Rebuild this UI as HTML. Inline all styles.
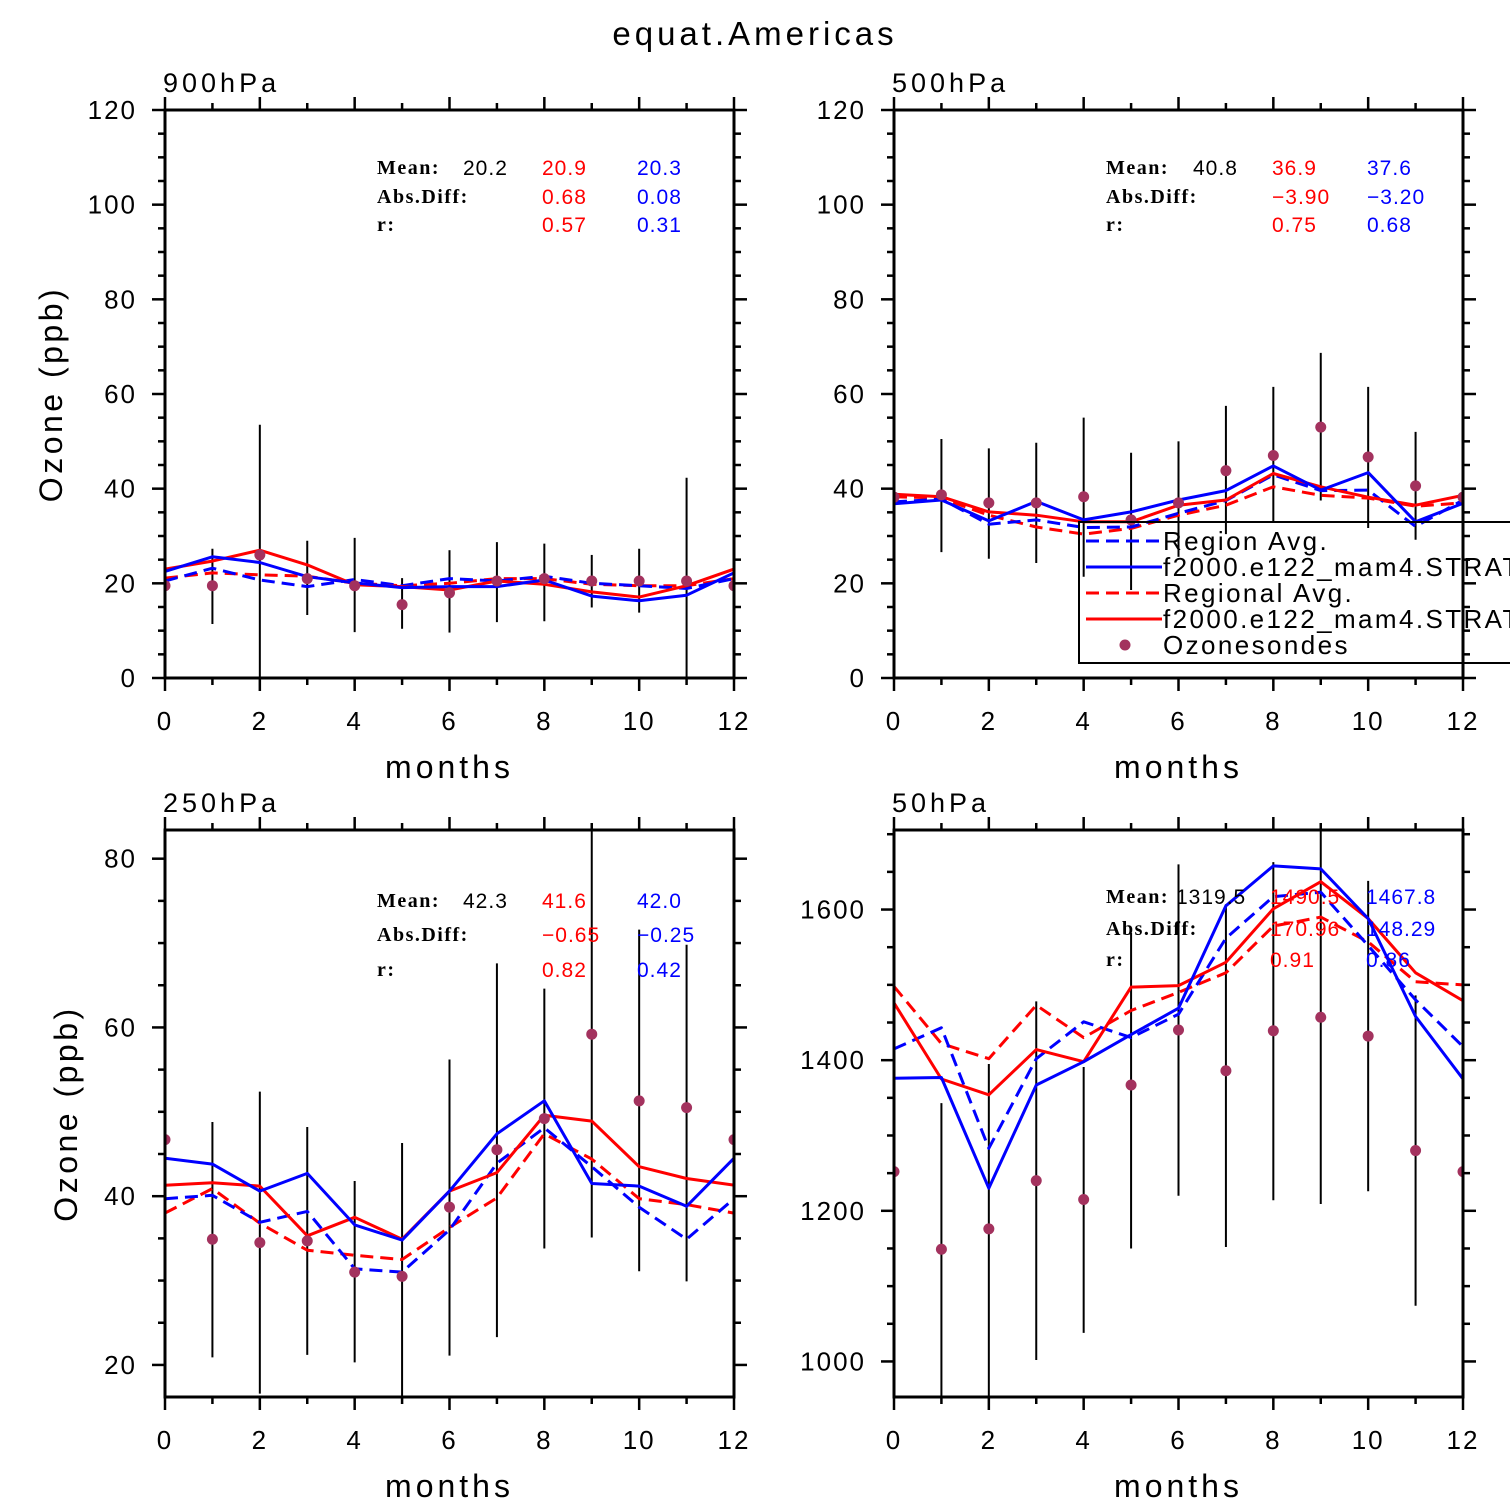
<!DOCTYPE html>
<html><head><meta charset="utf-8"><style>
body{margin:0;background:#fff;}
svg{display:block;font-family:"Liberation Sans",sans-serif;}
</style></head><body>
<svg id="chart" width="1510" height="1510" viewBox="0 0 1510 1510" xmlns="http://www.w3.org/2000/svg">
<text x="755" y="45" font-size="33" letter-spacing="4" text-anchor="middle">equat.Americas</text>
</svg>
<script>
const months = [0,1,2,3,4,5,6,7,8,9,10,11,12];
// 900hPa
const p1Obs = [19.5,19.5,26,21,19.5,15.5,18,20.5,21,20.5,20.5,20.5,19.5];
const p1ErrHi = [null,27.3,53.5,29,29.6,21.1,27,28.7,28.4,26,27.3,42.3,null];
const p1ErrLo = [null,11.4,-5,13.3,9.7,10.4,9.6,11.8,12,14.9,13.8,-5,null];
const p1BlueSolid = [22.5,25.6,24.4,21.4,20.1,19.1,19.3,19.3,20.7,17.3,16.3,17.5,22.2];
const p1BlueDash = [20.5,23.2,20.7,19.3,20.8,19.5,21,20.5,21.5,20,19.5,18.9,21];
const p1RedSolid = [23,24.7,27,23.9,19.7,19.3,18.6,20.5,19.8,18.2,17.1,19.5,23];
const p1RedDash = [21.1,22.2,21.8,21.5,20,19.5,20,21,21,19.8,19.5,19.5,21];
// 500hPa
const p2Obs = [38.2,38.7,37,37,38.3,33.4,37,43.8,47,53,46.7,40.6,38.2];
const p2ErrHi = [null,50.5,48.5,49.7,55,47.6,50,57.5,61.5,68.7,61.5,52,null];
const p2ErrLo = [null,26.6,25.2,24.3,21.4,18.6,25.6,30.4,32.8,37.5,31.7,29.2,null];
const p2BlueSolid = [36.8,37.6,33.2,37.3,33.4,35.1,37.6,39.6,44.8,39.7,43.4,33,36.9];
const p2BlueDash = [37.2,37.8,32.5,33.4,31.8,31.9,34.8,37.5,42.9,39.6,39.7,32,37.6];
const p2RedSolid = [38.8,38.3,35.1,34.4,33,33,36.5,37.6,43.2,40.4,38.2,36.5,38.6];
const p2RedDash = [38.3,38,34.4,31.9,30.4,31.6,34.4,36.5,40.4,38.6,38,36.3,37];
// 250hPa
const p3Obs = [46.7,34.9,34.5,34.7,31,30.5,38.7,45.5,49.2,59.2,51.3,50.5,46.7];
const p3ErrHi = [null,48.8,52.4,48.2,41.8,46.3,56.2,67.6,64.6,90,71.6,69.8,null];
const p3ErrLo = [null,20.9,16.6,21.2,20.3,10,21.1,23.3,33.8,35.1,31.1,29.9,null];
const p3BlueSolid = [44.5,43.8,40.6,42.7,36.6,34.8,40.6,47.4,51.3,41.5,41.2,38.8,44.5];
const p3BlueDash = [39.7,40.1,36.9,38.2,31.4,31,36,43.9,48.1,43.5,38.7,34.9,39.7];
const p3RedSolid = [41.3,41.6,41.2,35.3,37.5,34.9,40.6,42.8,49.6,48.9,43.5,42.1,41.3];
const p3RedDash = [38,40.9,36.8,33.6,33,32.5,36.3,39.8,47.4,44.4,39.7,39,38];
// 50hPa
const p4Obs = [1252,1149,1176,1240,1215,1367,1440,1386,1439,1457,1432,1280,1252];
const p4ErrHi = [null,1343,1395,1478,1391,1569,1660,1607,1663,1750,1638,1486,null];
const p4ErrLo = [null,900,900,1002,1038,1150,1220,1152,1214,1209,1226,1074,null];
const p4BlueSolid = [1376,1377,1230,1367,1398,1434,1469,1605,1658,1654,1588,1458,1375];
const p4BlueDash = [1415,1443,1283,1402,1451,1430,1461,1562,1617,1623,1552,1480,1418];
const p4RedSolid = [1476,1375,1354,1414,1398,1497,1499,1530,1601,1637,1588,1516,1479];
const p4RedDash = [1498,1422,1402,1473,1430,1466,1490,1516,1578,1590,1557,1504,1500];
const p1Stats = ["20.2","20.9","20.3","0.68","0.08","0.57","0.31"];
const p2Stats = ["40.8","36.9","37.6","\u22123.90","\u22123.20","0.75","0.68"];
const p3Stats = ["42.3","41.6","42.0","\u22120.65","\u22120.25","0.82","0.42"];
const p4Stats = ["1319.5","1490.5","1467.8","170.96","148.29","0.91","0.86"];
const xTickLabels = ["0","2","4","6","8","10","12"];

const NS="http://www.w3.org/2000/svg";
const svg=document.getElementById('chart');
function mk(tag,attrs,parent){const e=document.createElementNS(NS,tag);for(const k in attrs)e.setAttribute(k,attrs[k]);(parent||svg).appendChild(e);return e;}

const panels=[
 {id:'p1',name:'900hPa',x0:165,x1:734,y0:110,y1:678,vmin:0,vmax:120,major:20,minor:5,ticks:[0,20,40,60,80,100,120],obs:p1Obs,hi:p1ErrHi,lo:p1ErrLo,bs:p1BlueSolid,bd:p1BlueDash,rs:p1RedSolid,rd:p1RedDash,stats:p1Stats,sx:377,sv:463,sr:542,sb:637,sy:[167,196,224],ylab:true,ylx:62},
 {id:'p2',name:'500hPa',x0:894,x1:1463,y0:110,y1:678,vmin:0,vmax:120,major:20,minor:5,ticks:[0,20,40,60,80,100,120],obs:p2Obs,hi:p2ErrHi,lo:p2ErrLo,bs:p2BlueSolid,bd:p2BlueDash,rs:p2RedSolid,rd:p2RedDash,stats:p2Stats,sx:1106,sv:1193,sr:1272,sb:1367,sy:[167,196,224],legend:true},
 {id:'p3',name:'250hPa',x0:165,x1:734,y0:830,y1:1397,vmin:16.2,vmax:83.4,major:20,minor:5,ticks:[20,40,60,80],obs:p3Obs,hi:p3ErrHi,lo:p3ErrLo,bs:p3BlueSolid,bd:p3BlueDash,rs:p3RedSolid,rd:p3RedDash,stats:p3Stats,sx:377,sv:463,sr:542,sb:637,sy:[900,934,969],ylab:true,ylx:77},
 {id:'p4',name:'50hPa',x0:894,x1:1463,y0:830,y1:1397,vmin:952.8,vmax:1705.6,major:200,minor:50,ticks:[1000,1200,1400,1600],obs:p4Obs,hi:p4ErrHi,lo:p4ErrLo,bs:p4BlueSolid,bd:p4BlueDash,rs:p4RedSolid,rd:p4RedDash,stats:p4Stats,sx:1106,sv:1176,sr:1270,sb:1366,sy:[896,928,959]}
];

panels.forEach(p=>{
 const X=m=>p.x0+(m/12)*(p.x1-p.x0);
 const Y=v=>p.y1-(v-p.vmin)/(p.vmax-p.vmin)*(p.y1-p.y0);
 const g=mk('g',{});
 
 
 const cp=mk('clipPath',{id:'clip-'+p.id},g);
 mk('rect',{x:p.x0,y:p.y0,width:p.x1-p.x0,height:p.y1-p.y0},cp);
 const t=mk('text',{x:p.x0-2,y:p.y0-18,'font-size':27,'letter-spacing':4},g);t.textContent=p.name;
 
 const tk=mk('g',{stroke:'#000','stroke-width':2.5},g);
 
 months.forEach(m=>{const L=m%2===0?13:7;const x=X(m);
  mk('line',{x1:x,x2:x,y1:p.y1,y2:p.y1+L},tk);mk('line',{x1:x,x2:x,y1:p.y0,y2:p.y0-L},tk);});
 for(let v=Math.ceil(p.vmin/p.minor)*p.minor;v<=p.vmax+1e-6;v+=p.minor){
  const L=Math.abs(v/p.major-Math.round(v/p.major))<1e-6?13:7;const y=Y(v);
  mk('line',{x1:p.x0,x2:p.x0-L,y1:y,y2:y},tk);mk('line',{x1:p.x1,x2:p.x1+L,y1:y,y2:y},tk);}
 xTickLabels.forEach((s,i)=>{const tt=mk('text',{x:X(i*2),y:p.y1+52,'font-size':26,'letter-spacing':2,'text-anchor':'middle'},g);tt.textContent=s;
  });
 p.ticks.forEach(v=>{const tt=mk('text',{x:p.x0-28,y:Y(v)+9,'font-size':26,'letter-spacing':2,'text-anchor':'end'},g);tt.textContent=v;
  });
 const xl=mk('text',{x:(p.x0+p.x1)/2,y:p.y1+100,'font-size':32,'letter-spacing':4,'text-anchor':'middle'},g);xl.textContent='months';
 
 if(p.ylab){const cy=(p.y0+p.y1)/2;const yl=mk('text',{x:p.ylx,y:cy,'font-size':32,'letter-spacing':3.5,'text-anchor':'middle',transform:`rotate(-90 ${p.ylx} ${cy})`},g);
  yl.textContent='Ozone (ppb)';}
 const dg=mk('g',{'clip-path':`url(#clip-${p.id})`},g);
 
 months.forEach(m=>{if(p.hi[m]==null)return;
  const e=mk('line',{x1:X(m),x2:X(m),y1:Y(p.hi[m]),y2:Y(p.lo[m]),stroke:'#000','stroke-width':2},dg);
  });
 const series=[[p.rd,'#ff0000',true,'regional-avg-line'],[p.bd,'#0000ff',true,'region-avg-line'],[p.rs,'#ff0000',false,'model-red-line'],[p.bs,'#0000ff',false,'model-blue-line']];
 series.forEach(s=>{const pts=s[0].map((v,i)=>X(months[i]).toFixed(1)+','+Y(v).toFixed(1)).join(' ');
  const a={points:pts,fill:'none',stroke:s[1],'stroke-width':3,'stroke-linejoin':'round'};if(s[2])a['stroke-dasharray']='13 7';
  const pl=mk('polyline',a,dg);});
 months.forEach(m=>{const c=mk('circle',{cx:X(m),cy:Y(p.obs[m]),r:5.5,fill:'#a3325e'},dg);
  });
 mk('rect',{x:p.x0,y:p.y0,width:p.x1-p.x0,height:p.y1-p.y0,fill:'none',stroke:'#000','stroke-width':3},g);
 const sg=mk('g',{},g);
 const lab=['Mean:','Abs.Diff:','r:'];
 lab.forEach((l,i)=>{const tt=mk('text',{x:p.sx,y:p.sy[i]+7,'font-size':20,'letter-spacing':1.5,'font-family':'Liberation Serif, serif','font-weight':'bold'},sg);tt.textContent=l;});
 const st=p.stats;
 [[p.sv,0,st[0],'#000'],[p.sr,0,st[1],'#ff0000'],[p.sb,0,st[2],'#0000ff'],[p.sr,1,st[3],'#ff0000'],[p.sb,1,st[4],'#0000ff'],[p.sr,2,st[5],'#ff0000'],[p.sb,2,st[6],'#0000ff']].forEach(a=>{
  const tt=mk('text',{x:a[0],y:p.sy[a[1]]+8,'font-size':21,'letter-spacing':1,fill:a[3]},sg);tt.textContent=a[2];});
 if(p.legend){
  const lg=mk('g',{},g);
  mk('rect',{x:1079,y:522,width:450,height:141,fill:'none',stroke:'#000','stroke-width':2},lg);
  const items=[['Region  Avg.','#0000ff',true],['f2000.e122_mam4.STRAT','#0000ff',false],['Regional  Avg.','#ff0000',true],['f2000.e122_mam4.STRAT','#ff0000',false],['Ozonesondes',null,false]];
  items.forEach((it,i)=>{const y=541+i*26;
   const e=mk('g',{},lg);
   if(it[1]){const a={x1:1086,x2:1162,y1:y,y2:y,stroke:it[1],'stroke-width':3};if(it[2])a['stroke-dasharray']='13 7';mk('line',a,e);}
   else mk('circle',{cx:1125,cy:y,r:5.5,fill:'#a3325e'},e);
   const tt=mk('text',{x:1163,y:y+9,'font-size':26,'letter-spacing':2.4,'xml:space':'preserve'},e);tt.textContent=it[0];});
 }
});
</script>
</body></html>
